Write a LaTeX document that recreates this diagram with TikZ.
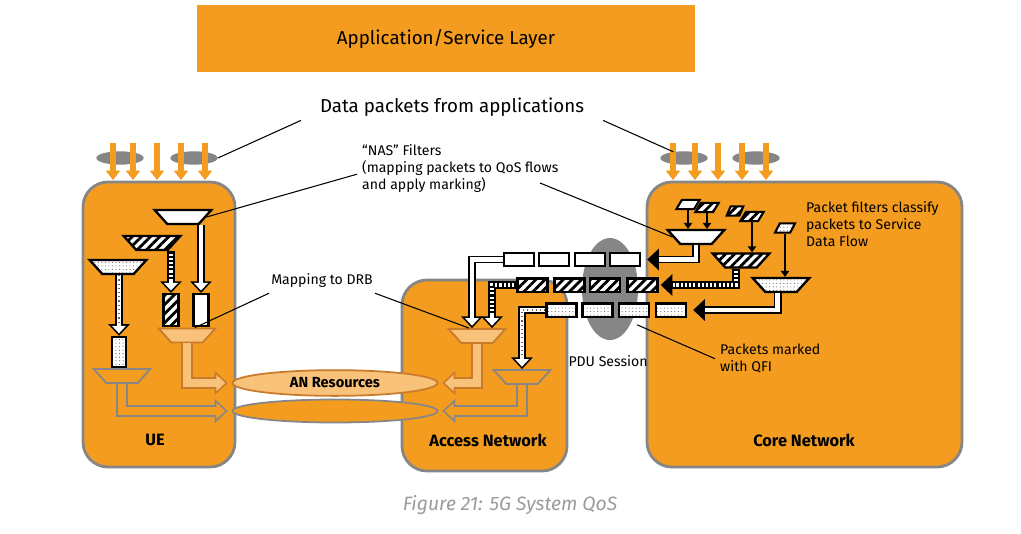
\documentclass[tikz,border=0pt]{standalone}
\usepackage{fontspec}
\setmainfont{Fira Sans}
\usetikzlibrary{shapes.geometric,arrows.meta,patterns.meta}

\definecolor{qosorange}{HTML}{F39C1F}
\definecolor{lightorange}{HTML}{F8C27B}
\definecolor{darkorange}{HTML}{C97A2B}
\definecolor{linegray}{HTML}{868686}
\definecolor{captiongray}{HTML}{9B9B9B}

% a block arrow: outline path first, then its core
\newcommand\twotone[3]{\draw[#1] #3; \draw[#2] #3;}

\tikzset{
  zone/.style={rectangle,draw=linegray,line width=2.4pt,fill=qosorange,rounded corners=0.75cm},
  zone name/.style={font=\bfseries\fontsize{14}{16}\selectfont},
  note/.style={font=\fontsize{12}{14.5}\selectfont,align=left,inner sep=0pt},
  burst/.style={ellipse,fill=linegray,inner sep=0pt,minimum width=1.42cm,minimum height=0.4cm},
  filter/.style={trapezium,trapezium stretches=true,trapezium angle=68,shape border rotate=180,
    draw,line width=2pt,inner sep=1pt,minimum width=1.7cm,minimum height=0.42cm},
  drb filter/.style={filter,draw=darkorange,fill=lightorange,line width=1.5pt},
  default filter/.style={filter,draw=linegray,fill=qosorange,line width=1.5pt},
  flow/.style={rectangle,draw,line width=2pt,inner sep=0pt,minimum width=0.9cm,minimum height=0.4cm},
  pkt/.style={trapezium,trapezium stretches=true,trapezium left angle=65,trapezium right angle=115,
    draw,line width=1.8pt,inner sep=1pt,minimum width=0.7cm,minimum height=0.28cm},
  plainfill/.style={fill=white},
  hatchfill/.style={preaction={fill=white},pattern={Lines[angle=45,distance=5.5pt,line width=2.4pt]},pattern color=black},
  dotfill/.style={preaction={fill=white},pattern={Dots[distance=3pt,radius=0.45pt]},pattern color=black!65},
  pipe body/.style={draw=black,line width=6.8pt,-{Triangle[length=10pt,width=18pt]}},
  pipe core/.style={draw=white,line width=4pt,shorten >=2.1pt,-{Triangle[length=6.5pt,width=11.7pt]}},
  solid core/.style={draw=white,line width=4pt,shorten >=10.4pt},
  pipe stripes/.style={draw=black,line width=4pt,dash pattern=on 1.8pt off 1.8pt,shorten >=12pt},
  pipe dots/.style={draw=black!60,line width=1.2pt,dash pattern=on 1pt off 2.6pt,shorten >=12pt},
  drb body/.style={draw=darkorange,line width=10pt,-{Triangle[length=11pt,width=20pt]}},
  drb core/.style={draw=lightorange,line width=7.2pt,shorten >=2.1pt,-{Triangle[length=7.5pt,width=13.6pt]}},
  default body/.style={drb body,draw=linegray},
  default core/.style={drb core,draw=qosorange},
  feed/.style={draw,line width=1.6pt,-{Triangle[length=5pt,width=7pt]}},
  data arrow/.style={draw=qosorange,line width=4.4pt,-{Triangle[length=8pt,width=12pt]}},
  callout/.style={draw=black,line width=0.9pt}
}

\begin{document}
\begin{tikzpicture}[x=0.03cm,y=-0.03cm]
  \useasboundingbox (0,0) rectangle (1021,533);

  % service layer and packets from the applications
  \node[fill=qosorange,minimum width=14.94cm,minimum height=2.01cm,font=\fontsize{16}{19}\selectfont] (app) at (446,38.5) {Application/Service Layer};
  \node[font=\fontsize{16}{19}\selectfont] (data) at (452,107) {Data packets from applications};

  % domains
  \node[zone,minimum width=4.56cm,minimum height=8.55cm] (ue) at (159,324.5) {};
  \node[zone,minimum width=4.95cm,minimum height=5.73cm] (an) at (484.5,375.5) {};
  \node[zone,minimum width=9.45cm,minimum height=8.55cm] (cn) at (804.5,324.5) {};
  \node[zone name] (uetxt) at (155,440) {UE};
  \node[zone name] (antxt) at (488,440) {Access Network};
  \node[zone name] (cntxt) at (804,440) {Core Network};

  \node[burst] (uepk1) at (120,158) {};
  \node[burst] (uepk2) at (194,158) {};
  \node[burst] (cnpk1) at (684,158) {};
  \node[burst] (cnpk2) at (756,158) {};
  \foreach \x in {113,133,157,181,205,673,695,718,742,766}
    \draw[data arrow] (\x,143) -- ++(0,37);

  \node[ellipse,fill=linegray,minimum width=1.68cm,minimum height=3.06cm] (pdu) at (610,289) {};

  % AN resources
  \node[ellipse,draw=darkorange,line width=1.5pt,fill=lightorange,minimum width=6.15cm,minimum height=0.69cm,
    font=\bfseries\fontsize{12.5}{14}\selectfont] (anres) at (335,383) {AN Resources};
  \node[ellipse,draw=linegray,line width=1.5pt,fill=qosorange,minimum width=6.15cm,minimum height=0.69cm] (andefres) at (335,411) {};

  % UE filters
  \node[filter,plainfill] (uef1) at (183,217) {};
  \node[filter,hatchfill] (uef2) at (152,243) {};
  \node[filter,dotfill] (uef3) at (118,267) {};
  \node[flow,plainfill,minimum width=0.45cm,minimum height=0.95cm] (ueq1) at (201,310) {};
  \node[flow,hatchfill,minimum width=0.45cm,minimum height=0.95cm] (ueq2) at (171,310) {};
  \node[flow,dotfill,minimum width=0.42cm,minimum height=0.9cm] (ueq3) at (119,352) {};
  \node[drb filter] (uedrb) at (187,335.5) {};
  \node[default filter] (uedef) at (122,376) {};

  \twotone{pipe body}{pipe core}{(uef1.south -| ueq1) -- (ueq1)}
  \twotone{pipe body}{pipe core}{(uef2.south -| ueq2) -- (ueq2)}
  \draw[pipe stripes] (uef2.south -| ueq2) -- (ueq2.north);
  \twotone{pipe body}{pipe core}{(uef3.south -| ueq3) -- (ueq3)}
  \draw[pipe dots] (uef3.south -| ueq3) -- (ueq3.north);
  \twotone{drb body}{drb core}{(uedrb.south) |- ([xshift=-0.12cm]anres.west)}
  \twotone{default body}{default core}{(uedef.south) |- ([xshift=-0.12cm]andefres.west)}

  % QoS flows in the PDU session
  \node[flow,plainfill] (anw1) at (519,259.5) {};
  \node[flow,plainfill] (anw2) at (554,259.5) {};
  \node[flow,plainfill] (anw3) at (590,259.5) {};
  \node[flow,plainfill] (anw4) at (625,259.5) {};
  \node[flow,hatchfill] (anh1) at (532.5,285) {};
  \node[flow,hatchfill] (anh2) at (569.5,285) {};
  \node[flow,hatchfill] (anh3) at (605,285) {};
  \node[flow,hatchfill] (anh4) at (642.5,285) {};
  \node[flow,dotfill] (anp1) at (561.5,310) {};
  \node[flow,dotfill] (anp2) at (597.5,310) {};
  \node[flow,dotfill] (anp3) at (634,310) {};
  \node[flow,dotfill] (anp4) at (671,310) {};

  % access network
  \node[drb filter] (andrb) at (477,336) {};
  \node[default filter] (andef) at (522,377) {};
  \twotone{pipe body}{pipe core}{(anw1.west) -| ([xshift=-0.15cm]andrb.north)}
  \twotone{pipe body}{pipe core}{(anh1.west) -| ([xshift=0.45cm]andrb.north)}
  \draw[pipe stripes] (anh1.west) -| ([xshift=0.45cm]andrb.north);
  \twotone{pipe body}{pipe core}{(anp1.west) -| (andef.north)}
  \draw[pipe dots] (anp1.west) -| (andef.north);
  \twotone{drb body}{drb core}{(andrb.south) |- ([xshift=0.12cm]anres.east)}
  \twotone{default body}{default core}{(andef.south) |- ([xshift=0.12cm]andefres.east)}

  % core network packet filters
  \node[pkt,plainfill] (cp1) at (688,204.5) {};
  \node[pkt,hatchfill] (cp2) at (707,207.5) {};
  \node[pkt,hatchfill,minimum width=0.5cm] (cp3) at (735,211) {};
  \node[pkt,hatchfill] (cp4) at (752,216.5) {};
  \node[pkt,dotfill,minimum width=0.6cm] (cp5) at (785,228) {};
  \node[filter,plainfill] (cpf1) at (696,237) {};
  \node[filter,hatchfill] (cpf2) at (741,260.5) {};
  \node[filter,dotfill] (cpf3) at (781,285) {};
  \draw[feed] (cp1.south) -- (cp1.south |- cpf1.north);
  \draw[feed] (cp2.south) -- (cp2.south |- cpf1.north);
  \draw[feed] (cp4.south) -- (cp4.south |- cpf2.north);
  \draw[feed] (cp5.south) -- (cp5.south |- cpf3.north);
  \twotone{pipe body}{solid core}{(cpf1.south) |- ([xshift=0.18cm]anw4.east)}
  \twotone{pipe body}{solid core}{([xshift=-0.15cm]cpf2.south) |- ([xshift=0.06cm]anh4.east)}
  \draw[pipe stripes] ([xshift=-0.15cm]cpf2.south) |- ([xshift=0.06cm]anh4.east);
  \twotone{pipe body}{solid core}{([xshift=-0.1cm]cpf3.south) |- ([xshift=0.18cm]anp4.east)}

  % labels
  \node[note,anchor=north west] (nas) at (362,144) {“NAS” Filters\\(mapping packets to QoS flows\\and apply marking)};
  \coordinate (nasend) at (540,183);
  \node[note] (drb) at (322,281) {Mapping to DRB};
  \node[note,anchor=north west] (sdf) at (806,201) {Packet filters classify\\packets to Service\\Data Flow};
  \node[note] (pdutxt) at (608,361) {PDU Session};
  \node[note,anchor=north west] (qfi) at (720,344) {Packets marked\\with QFI};

  \draw[callout] ([xshift=-0.45cm]data.south west) -- (uepk2.east);
  \draw[callout] ([xshift=0.45cm]data.south east) -- (cnpk1.150);
  \draw[callout] ([shift={(-5,6)}]nas.west) -- (uef1.east);
  \draw[callout] (nasend) -- (cpf1.west);
  \draw[callout] ([shift={(-2,5)}]drb.south west) -- (uedrb.north east);
  \draw[callout] ([shift={(2,5)}]drb.south east) -- (andrb.north west);
  \draw[callout] ([xshift=-0.15cm]qfi.west) -- ([shift={(-13,7)}]anp3.south east);

  \node[font=\itshape\fontsize{16.5}{19}\selectfont,text=captiongray] (caption) at (510,505) {Figure 21: 5G System QoS};
\end{tikzpicture}
\end{document}
